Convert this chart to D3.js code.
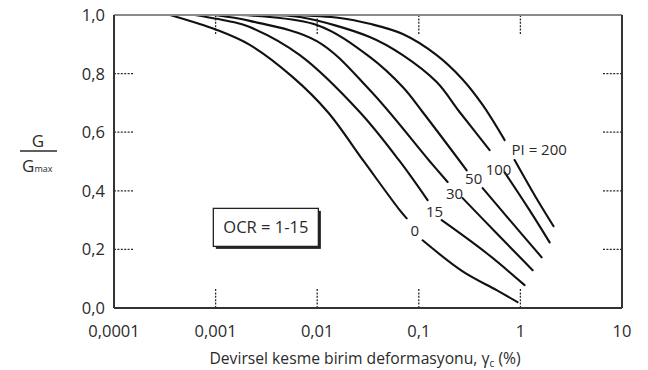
<!DOCTYPE html>
<html>
<head>
<meta charset="utf-8">
<script src="https://cdn.jsdelivr.net/npm/d3@7"></script>
<style>
  html, body { margin: 0; padding: 0; background: #fff; }
  svg { display: block; }
  text { font-family: "Open Sans", "DejaVu Sans", sans-serif; fill: #2a2a2a; }
</style>
</head>
<body>
<svg id="chart" width="648" height="370"></svg>
<script>
// Axis ticks and labels
const strainTicks = [0.0001, 0.001, 0.01, 0.1, 1, 10];
const strainTickLabels = ["0,0001", "0,001", "0,01", "0,1", "1", "10"];
const innerStrainTicks = [0.001, 0.01, 0.1, 1];
const ratioTicks = [0, 0.2, 0.4, 0.6, 0.8, 1.0];
const ratioTickLabels = ["0,0", "0,2", "0,4", "0,6", "0,8", "1,0"];
const innerRatioTicks = [0.2, 0.4, 0.6, 0.8];

// Modulus reduction curves, one per plasticity index (strain in %)
const plasticityIndex = [0, 15, 30, 50, 100, 200];
const strainPI0   = [0.000356, 0.00103, 0.00217, 0.00575, 0.0127, 0.0287, 0.0649, 0.0760, 0.109, 0.270, 0.583, 0.937];
const ratioPI0    = [1.000, 0.949, 0.898, 0.788, 0.669, 0.501, 0.334, 0.306, 0.231, 0.125, 0.061, 0.020];
const strainPI15  = [0.000625, 0.00148, 0.00217, 0.00675, 0.0262, 0.0649, 0.122, 0.168, 0.466, 1.10];
const ratioPI15   = [1.000, 0.976, 0.959, 0.863, 0.669, 0.501, 0.368, 0.300, 0.187, 0.078];
const strainPI30  = [0.000984, 0.00217, 0.00991, 0.0329, 0.128, 0.192, 0.270, 0.583, 1.32];
const ratioPI30   = [1.000, 0.980, 0.911, 0.744, 0.501, 0.430, 0.375, 0.255, 0.129];
const strainPI50  = [0.00173, 0.00991, 0.0329, 0.0695, 0.109, 0.296, 0.425, 0.818, 1.62];
const ratioPI50   = [1.000, 0.966, 0.857, 0.754, 0.669, 0.470, 0.409, 0.293, 0.173];
const strainPI100 = [0.00305, 0.00675, 0.0329, 0.0695, 0.150, 0.252, 0.498, 0.700, 1.23, 1.94];
const ratioPI100  = [1.000, 0.993, 0.925, 0.863, 0.771, 0.669, 0.539, 0.463, 0.334, 0.224];
const strainPI200 = [0.00538, 0.0167, 0.0329, 0.0695, 0.150, 0.270, 0.425, 0.700, 0.877, 1.38, 2.12];
const ratioPI200  = [1.000, 0.990, 0.970, 0.935, 0.863, 0.780, 0.693, 0.573, 0.505, 0.385, 0.279];

// Each curve breaks around its label: last strain drawn before the break
const breakAfterStrain = [0.0760, 0.122, 0.192, 0.296, 0.498, 0.700];

// Curve labels, placed in the breaks
const curveLabels = ["0", "15", "30", "50", "100", "PI = 200"];
const labelStrain = [0.0912, 0.143, 0.225, 0.347, 0.610, 0.818];
const labelRatio  = [0.265, 0.330, 0.392, 0.440, 0.474, 0.539];

const ocrText = "OCR = 1-15";

const curveStrains = [strainPI0, strainPI15, strainPI30, strainPI50, strainPI100, strainPI200];
const curveRatios  = [ratioPI0, ratioPI15, ratioPI30, ratioPI50, ratioPI100, ratioPI200];

const svg = d3.select("#chart");
const margin = { left: 114, right: 26, top: 15, bottom: 62 };
const W = 648, H = 370;

const x = d3.scaleLog().domain([0.0001, 10]).range([margin.left, W - margin.right]);
const y = d3.scaleLinear().domain([0, 1]).range([H - margin.bottom, margin.top]);

const x0 = x.range()[0], x1 = x.range()[1];
const yb = y.range()[0], yt = y.range()[1];

// Dotted inner ticks on all four sides
const tickLen = 19;
const dotted = { stroke: "#2a2a2a", "stroke-width": 1.3, "stroke-dasharray": "2,1.4" };
function applyAttrs(sel, a) { Object.entries(a).forEach(([k, v]) => sel.attr(k, v)); return sel; }

applyAttrs(svg.append("g").selectAll("line").data(innerRatioTicks).join("line")
  .attr("x1", x0).attr("x2", x0 + tickLen)
  .attr("y1", d => y(d)).attr("y2", d => y(d)), dotted);
applyAttrs(svg.append("g").selectAll("line").data(innerRatioTicks).join("line")
  .attr("x1", x1 - tickLen).attr("x2", x1)
  .attr("y1", d => y(d)).attr("y2", d => y(d)), dotted);
applyAttrs(svg.append("g").selectAll("line").data(innerStrainTicks).join("line")
  .attr("x1", d => x(d)).attr("x2", d => x(d))
  .attr("y1", yb).attr("y2", yb - tickLen), dotted);
applyAttrs(svg.append("g").selectAll("line").data(innerStrainTicks).join("line")
  .attr("x1", d => x(d)).attr("x2", d => x(d))
  .attr("y1", yt).attr("y2", yt + tickLen), dotted);

// Curves: each drawn as an upper and a lower piece
const line = d3.line()
  .x(d => x(d[0]))
  .y(d => y(d[1]))
  .curve(d3.curveCatmullRom.alpha(0.5));

const pieces = [];
plasticityIndex.forEach((pi, i) => {
  const pts = curveStrains[i].map((s, j) => [s, curveRatios[i][j]]);
  pieces.push(pts.filter(p => p[0] <= breakAfterStrain[i]));
  pieces.push(pts.filter(p => p[0] > breakAfterStrain[i]));
});

svg.append("g").selectAll("path")
  .data(pieces)
  .join("path")
  .attr("d", line)
  .attr("fill", "none")
  .attr("stroke", "#111")
  .attr("stroke-width", 2.1)
  .attr("stroke-linecap", "round");

// Frame
svg.append("line").attr("x1", x0).attr("x2", x1).attr("y1", yt).attr("y2", yt)
  .attr("stroke", "#8a8a8a").attr("stroke-width", 2);
svg.append("line").attr("x1", x0).attr("x2", x1).attr("y1", yb).attr("y2", yb)
  .attr("stroke", "#333").attr("stroke-width", 2);
svg.append("line").attr("x1", x0).attr("x2", x0).attr("y1", yt).attr("y2", yb)
  .attr("stroke", "#333").attr("stroke-width", 2);
svg.append("line").attr("x1", x1).attr("x2", x1).attr("y1", yt).attr("y2", yb)
  .attr("stroke", "#333").attr("stroke-width", 2);

// Curve labels
svg.append("g").selectAll("text").data(curveLabels).join("text")
  .attr("x", (d, i) => x(labelStrain[i]))
  .attr("y", (d, i) => y(labelRatio[i]))
  .attr("dy", "0.36em")
  .attr("text-anchor", (d, i) => i === curveLabels.length - 1 ? "start" : "middle")
  .attr("font-size", 15)
  .text(d => d);

// Tick labels
svg.append("g").selectAll("text").data(strainTicks).join("text")
  .attr("x", d => x(d))
  .attr("y", yb + 29)
  .attr("text-anchor", "middle")
  .attr("font-size", 16.5)
  .text((d, i) => strainTickLabels[i]);

svg.append("g").selectAll("text").data(ratioTicks).join("text")
  .attr("x", x0 - 9)
  .attr("y", d => y(d))
  .attr("dy", "0.36em")
  .attr("text-anchor", "end")
  .attr("font-size", 16.5)
  .text((d, i) => ratioTickLabels[i]);

// X axis title
const xt = svg.append("text")
  .attr("x", (x0 + x1) / 2 - 3)
  .attr("y", H - 6)
  .attr("text-anchor", "middle")
  .attr("font-size", 15.7);
xt.append("tspan").text("Devirsel kesme birim deformasyonu, γ");
xt.append("tspan").attr("font-size", 10).attr("dy", 3).text("c");
xt.append("tspan").attr("dy", -3).text(" (%)");

// Y axis title: G / Gmax
const yx = 38;
svg.append("text").attr("x", yx).attr("y", 147).attr("text-anchor", "middle")
  .attr("font-size", 17).text("G");
svg.append("line").attr("x1", 20).attr("x2", 57).attr("y1", 151).attr("y2", 151)
  .attr("stroke", "#2a2a2a").attr("stroke-width", 1.4);
const gm = svg.append("text").attr("x", 22).attr("y", 172).attr("font-size", 17);
gm.append("tspan").text("G");
gm.append("tspan").attr("font-size", 9).text("max");

// OCR note box with a drop shadow
const boxX = x(0.00095), boxY = y(0.34);
const ocr = svg.append("g");
const ocrTxt = ocr.append("text")
  .attr("font-size", 16.5)
  .attr("text-anchor", "middle")
  .text(ocrText);
const tb = ocrTxt.node().getBBox();
const bw = tb.width + 20, bh = 38;
ocrTxt.attr("x", boxX + bw / 2).attr("y", boxY + bh / 2).attr("dy", "0.36em");
ocr.insert("rect", "text").attr("x", boxX + 2.5).attr("y", boxY + 2.5)
  .attr("width", bw).attr("height", bh).attr("fill", "#222");
ocr.insert("rect", "text").attr("x", boxX).attr("y", boxY)
  .attr("width", bw).attr("height", bh)
  .attr("fill", "#fff").attr("stroke", "#222").attr("stroke-width", 1.3);
</script>
</body>
</html>
